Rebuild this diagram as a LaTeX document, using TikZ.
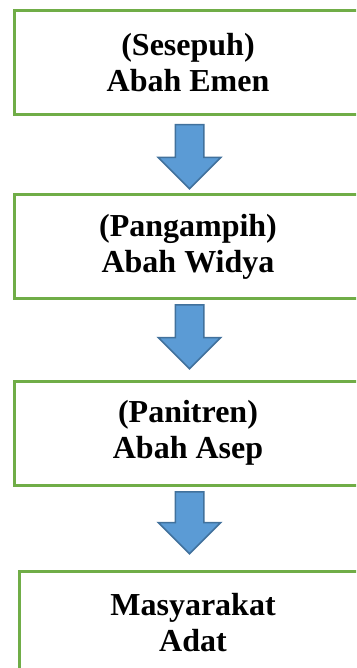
\documentclass[tikz,border=0pt]{standalone}
\usepackage{fontspec}
\setmainfont{Liberation Serif}
\usetikzlibrary{positioning,shapes.arrows}
\definecolor{hijau}{HTML}{70AD47}
\definecolor{biru}{HTML}{5B9BD5}
\definecolor{birutua}{HTML}{41719C}

\begin{document}
\begin{tikzpicture}[x=1pt,y=-1pt]
			\tikzstyle{every node}+=[inner sep=0pt]
			\tikzstyle{kotak}=[draw=hijau, line width=3pt, minimum width=348pt, minimum height=104pt, align=center, font=\fontsize{32}{36}\selectfont\bfseries]
			\tikzstyle{panah}=[single arrow, draw=birutua, fill=biru, line width=1.5pt, rotate=-90, anchor=tail, inner sep=13.5pt, minimum height=64pt, single arrow head extend=17pt, single arrow head indent=0pt]
			\useasboundingbox (0,0) rectangle (356,668);
			\clip (0,0) rectangle (356,668);
			\node [kotak] (sesepuh) at (188,63) {(Sesepuh)\\Abah Emen};
			\node [kotak] (pangampih) at (188,246.5) {(Pangampih)\\Abah Widya};
			\node [kotak] (panitren) at (188,433) {(Panitren)\\Abah Asep};
			\node [kotak] (masyarakat) at (193,623) {Masyarakat\\Adat};
			\node [panah] (panah1) at (189.5,124) {};
			\node [panah] (panah2) at (189.5,304) {};
			\node [panah, minimum height=62pt] (panah3) at (189.5,491) {};
\end{tikzpicture}
\end{document}
